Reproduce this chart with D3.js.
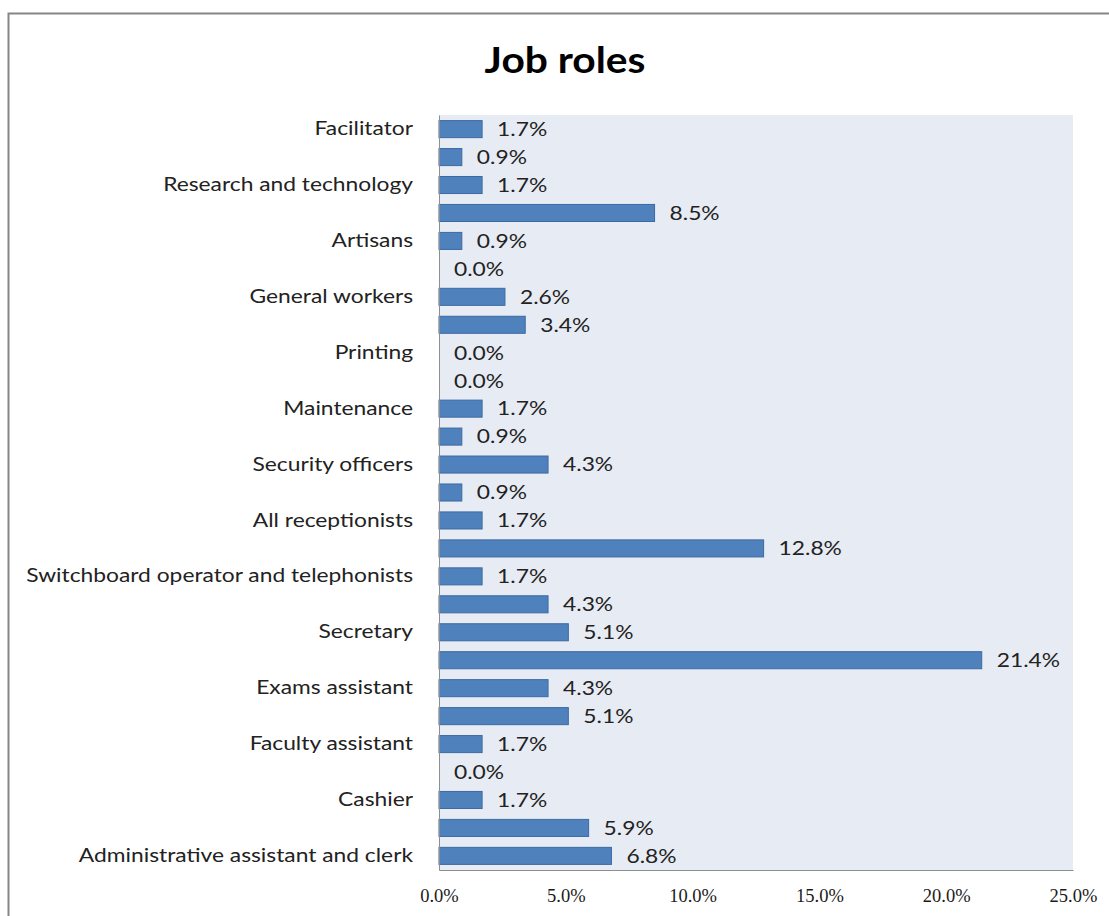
<!DOCTYPE html>
<html>
<head>
<meta charset="utf-8">
<script src="https://cdn.jsdelivr.net/npm/d3@7"></script>
<style>
  html, body { margin: 0; padding: 0; background: #fff; }
  svg { display: block; }
</style>
</head>
<body>
<svg id="chart" width="1109" height="916"></svg>
<script>
// Job roles, top to bottom; every second row carries no axis label.
const roleLabels = [
  "Facilitator", "",
  "Research and technology", "",
  "Artisans", "",
  "General workers", "",
  "Printing", "",
  "Maintenance", "",
  "Security officers", "",
  "All receptionists", "",
  "Switchboard operator and telephonists", "",
  "Secretary", "",
  "Exams assistant", "",
  "Faculty assistant", "",
  "Cashier", "",
  "Administrative assistant and clerk"
];
// Share of respondents per role (%)
const roleShares = [
  1.7, 0.9, 1.7, 8.5, 0.9, 0.0, 2.6, 3.4, 0.0, 0.0,
  1.7, 0.9, 4.3, 0.9, 1.7, 12.8, 1.7, 4.3, 5.1, 21.4,
  4.3, 5.1, 1.7, 0.0, 1.7, 5.9, 6.8
];
const xTicks = [0, 5, 10, 15, 20, 25];
const chartTitle = "Job roles";

const svg = d3.select("#chart");
const W = 1109, H = 916;
const plot = { left: 439, right: 1073, top: 115, bottom: 870 };
const sansFont = "Lato, 'Open Sans', sans-serif";
const widen = 1.2;   // horizontal stretch for the sans-serif text

// Outer chart frame (runs off the right and bottom edges)
svg.append("rect")
  .attr("x", 8.5).attr("y", 13.5)
  .attr("width", W + 20).attr("height", H + 20)
  .attr("fill", "#fff").attr("stroke", "#868686").attr("stroke-width", 2);

// Plot background
svg.append("rect")
  .attr("x", plot.left).attr("y", plot.top)
  .attr("width", plot.right - plot.left).attr("height", plot.bottom - plot.top)
  .attr("fill", "#E7EBF3");

const x = d3.scaleLinear().domain([0, 25]).range([plot.left, plot.right]);
const y = d3.scaleBand()
  .domain(d3.range(roleShares.length))
  .range([plot.top, plot.bottom])
  .paddingInner(0.39).paddingOuter(0.2);

// Bars
svg.append("g").selectAll("rect")
  .data(roleShares)
  .join("rect")
  .attr("x", x(0))
  .attr("y", (d, i) => y(i))
  .attr("width", d => Math.max(0, x(d) - x(0)))
  .attr("height", y.bandwidth())
  .attr("fill", "#4F81BD")
  .attr("stroke", d => d > 0 ? "#3C6AA3" : "none")
  .attr("stroke-width", 1);

// Value labels
svg.append("g").selectAll("text")
  .data(roleShares)
  .join("text")
  .attr("transform", (d, i) =>
    `translate(${x(d) + 15},${y(i) + y.bandwidth() / 2}) scale(${widen},1)`)
  .attr("dy", "0.36em")
  .attr("font-family", sansFont)
  .attr("font-size", 19)
  .attr("fill", "#222")
  .text(d => d.toFixed(1) + "%");

// Category axis
const yAxis = d3.axisLeft(y)
  .tickSize(0).tickPadding(26)
  .tickFormat(i => roleLabels[i]);
const gy = svg.append("g")
  .attr("transform", `translate(${plot.left},0)`)
  .call(yAxis);
gy.select(".domain").attr("stroke", "#8E8E8E").attr("stroke-width", 1);
gy.selectAll("text")
  .attr("x", -26 / widen)
  .attr("transform", `scale(${widen},1)`)
  .attr("font-family", sansFont)
  .attr("font-size", 19)
  .attr("fill", "#222");

// Value axis
const xAxis = d3.axisBottom(x)
  .tickValues(xTicks).tickSize(0).tickPadding(19)
  .tickFormat(d => d.toFixed(1) + "%");
const gx = svg.append("g")
  .attr("transform", `translate(0,${plot.bottom})`)
  .call(xAxis);
gx.select(".domain").attr("stroke", "#8E8E8E").attr("stroke-width", 1);
gx.selectAll("text")
  .attr("font-family", "'Liberation Serif', 'DejaVu Serif', serif")
  .attr("font-size", 18.5)
  .attr("fill", "#1a1a1a");

// Title
svg.append("text")
  .attr("transform", `translate(565,73) scale(1.1,1)`)
  .attr("text-anchor", "middle")
  .attr("font-family", sansFont)
  .attr("font-weight", "bold")
  .attr("font-size", 37)
  .attr("fill", "#000")
  .text(chartTitle);
</script>
</body>
</html>
